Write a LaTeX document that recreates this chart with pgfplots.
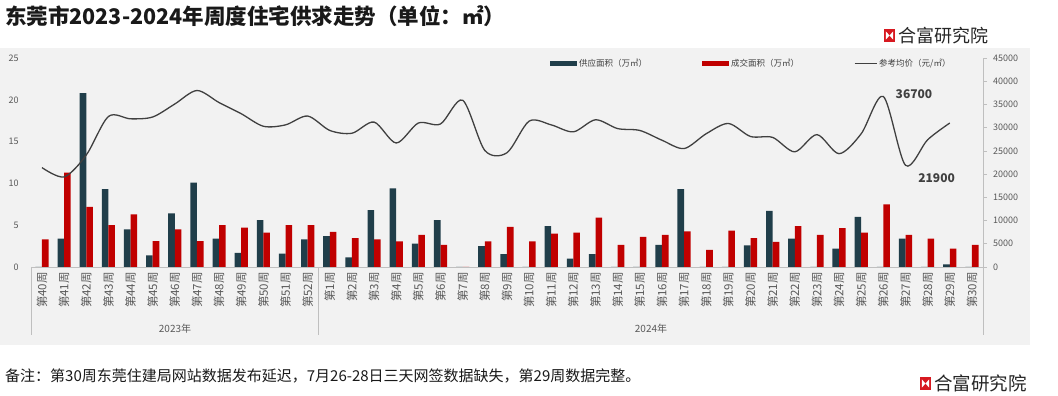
\documentclass[border=0pt]{standalone}
\usepackage{pgfplots}
\usepackage{pgfplotstable}
\pgfplotsset{compat=1.18}
\usepackage{fontspec}
\setmainfont{Noto Sans CJK SC}
\definecolor{bgc}{HTML}{F2F2F2}
\definecolor{darkbar}{HTML}{203E4A}
\definecolor{redbar}{HTML}{C00000}
\definecolor{linec}{HTML}{404040}
\definecolor{txt}{HTML}{595959}
\definecolor{axc}{HTML}{BFBFBF}
\definecolor{logored}{HTML}{D71920}
\newcommand{\fs}[1]{\fontsize{#1}{#1}\selectfont}
\newcommand{\logo}[4]{%
  \fill[logored] (#1,#2) rectangle ++(11,13);
  \fill[white] ({#1+1.8},{#2+2.3}) -- ({#1+1.8},{#2+10.7}) -- ({#1+5.5},{#2+6.5}) -- cycle;
  \fill[white] ({#1+9.2},{#2+2.3}) -- ({#1+9.2},{#2+10.7}) -- ({#1+5.5},{#2+6.5}) -- cycle;
  \node[anchor=west, inner sep=0pt, font=\fs{#4}, text=black!85] at ({#1+14},{#2+6.5}) {#3};
}
\pgfplotstableread{
i supply deal
0 0 3.3
1 3.4 11.3
2 20.8 7.2
3 9.3 5.0
4 4.5 6.3
5 1.4 3.1
6 6.4 4.5
7 10.1 3.1
8 3.4 5.0
9 1.7 4.7
10 5.6 4.1
11 1.6 5.0
12 3.3 5.0
13 3.7 4.2
14 1.15 3.45
15 6.8 3.3
16 9.4 3.05
17 2.8 3.85
18 5.6 2.65
19 0 0
20 2.5 3.05
21 1.55 4.8
22 0 3.05
23 4.9 4.0
24 1.0 4.1
25 1.55 5.9
26 0 2.65
27 0 3.6
28 2.65 3.85
29 9.3 4.25
30 0 2.05
31 0 4.35
32 2.6 3.45
33 6.7 3.0
34 3.4 4.9
35 0 3.85
36 2.2 4.65
37 6.0 4.1
38 0 7.5
39 3.4 3.85
40 0 3.4
41 0.3 2.2
42 0 2.65
}\bars
\pgfplotstableread{
i price
0 21400
1 19400
2 24100
3 32400
4 31900
5 32300
6 35100
7 38000
8 35400
9 33000
10 30300
11 30600
12 32500
13 29400
14 28800
15 31200
16 26700
17 31000
18 30800
19 35900
20 25100
21 24600
22 31400
23 30600
24 29100
25 31700
26 29800
27 29400
28 27300
29 25500
30 28700
31 30900
32 28100
33 27900
34 24800
35 28500
36 24400
37 28700
38 36700
39 21900
40 27400
41 31000
}\price
\pgfplotsset{/pgf/number format/assume math mode=true}
\begin{document}
\begin{tikzpicture}[x=1pt,y=1pt]
\useasboundingbox (0,0) rectangle (1058,396);
\fill[white] (0,0) rectangle (1058,396);
\fill[bgc] (0,51) rectangle (1030,348);
\node[anchor=base west, inner sep=0pt, font=\fs{21.5}\bfseries, text=black!90] at (5,371) {东莞市2023-2024年周度住宅供求走势（单位：㎡）};
\logo{884}{354}{合富研究院}{18}
\logo{920}{6}{合富研究院}{18.5}
\begin{axis}[
  at={(30.9pt,129pt)}, anchor=south west, scale only axis,
  width=952.1pt, height=209pt,
  xmin=-0.5, xmax=42.5, ymin=0, ymax=25,
  ytick={0,5,...,25},
  axis y line*=left, axis x line*=bottom,
  y axis line style={draw=none},
  x axis line style={axc, line width=0.7pt, -},
  major tick length=0pt,
  xtick={0,...,42},
  xticklabels={第40周,第41周,第42周,第43周,第44周,第45周,第46周,第47周,第48周,第49周,第50周,第51周,第52周,第1周,第2周,第3周,第4周,第5周,第6周,第7周,第8周,第9周,第10周,第11周,第12周,第13周,第14周,第15周,第16周,第17周,第18周,第19周,第20周,第21周,第22周,第23周,第24周,第25周,第26周,第27周,第28周,第29周,第30周},
  xticklabel style={rotate=90, anchor=east, inner ysep=0pt, inner xsep=5pt, font=\fs{11.5}, text=txt},
  yticklabel style={anchor=east, inner sep=0pt, xshift=-12pt, font=\fs{9}, text=txt},
  ybar=0pt, bar width=6.6pt,
  legend style={at={(0.5452,0.9713)}, anchor=west, legend columns=3, draw=none, fill=none,
    font=\fs{8.5}, text=linec, inner sep=0pt,
    /tikz/every even column/.append style={column sep=53pt}},
  legend cell align=left,
]
\addplot[fill=darkbar, draw=none, legend image code/.code={\fill[darkbar] (0pt,-2.5pt) rectangle (27pt,2.5pt);}] table[x=i,y=supply]{\bars};
\addlegendentry{供应面积（万㎡）}
\addplot[fill=redbar, draw=none, legend image code/.code={\fill[redbar] (0pt,-2.5pt) rectangle (27pt,2.5pt);}] table[x=i,y=deal]{\bars};
\addlegendentry{成交面积（万㎡）}
\addlegendimage{linec, line width=1pt, legend image code/.code={\draw[linec, line width=1pt] (0pt,0pt) -- (22pt,0pt);}}
\addlegendentry{参考均价（元/㎡）}
\end{axis}
\begin{axis}[
  at={(30.9pt,129pt)}, anchor=south west, scale only axis,
  width=952.1pt, height=209pt,
  xmin=-0.5, xmax=42.5, ymin=0, ymax=45000,
  axis y line*=right, axis x line=none,
  ytick={0,5000,...,45000},
  scaled y ticks=false,
  y axis line style={axc, line width=0.7pt, -},
  major tick length=4pt, tick align=outside,
  ytick style={axc, line width=0.7pt},
  yticklabel style={anchor=west, inner sep=0pt, xshift=6pt, font=\fs{9}, text=txt, /pgf/number format/1000 sep={}},
  clip=false,
]
\addplot[linec, line width=1.3pt, smooth, tension=0.5, mark=none] table[x=i,y=price]{\price};
\node[anchor=west, font=\fs{12}\bfseries, text=linec, inner sep=0pt] at (axis cs:38.55,37300) {36700};
\node[anchor=west, font=\fs{12}\bfseries, text=linec, inner sep=0pt] at (axis cs:39.57,19100) {21900};
\end{axis}
\draw[axc, line width=0.7pt] (30.9,129) -- (30.9,61);
\draw[axc, line width=0.7pt] (318.8,129) -- (318.8,61);
\draw[axc, line width=0.7pt] (983,129) -- (983,61);
\node[font=\fs{10}, text=txt] at (175,67) {2023年};
\node[font=\fs{10}, text=txt] at (651,67) {2024年};
\node[anchor=base west, inner sep=0pt, font=\fs{15}, text=black!90] at (5,14) {备注：第30周东莞住建局网站数据发布延迟，7月26-28日三天网签数据缺失，第29周数据完整。};
\end{tikzpicture}
\end{document}
